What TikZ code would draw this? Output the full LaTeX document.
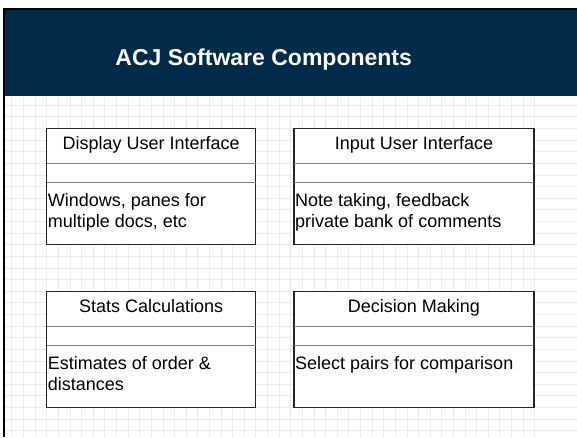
\documentclass[tikz,border=0pt]{standalone}
\usepackage{fontspec}
\setmainfont{Liberation Sans}
\usepackage{tikz}

\definecolor{BandBlue}{RGB}{2,43,74}
\definecolor{GridGray}{RGB}{236,236,236}
\definecolor{SepGray}{RGB}{130,130,130}

\begin{document}
\begin{tikzpicture}[x=1pt,y=-1pt]
  \tikzset{BoxStyle/.style = {
    shape         = rectangle,
    draw          = black!85,
    fill          = white,
    line width    = 1.2pt,
    anchor        = north west,
    inner sep     = 0pt,
    outer sep     = 0pt,
    minimum width = 209pt,
    minimum height= 116pt
    }
  }
  \tikzset{HeadStyle/.style = {
    anchor        = base,
    inner sep     = 0pt,
    text          = black,
    font          = \fontsize{18}{20.7}\selectfont
    }
  }
  \tikzset{BodyStyle/.style = {
    anchor        = north west,
    inner sep     = 0pt,
    align         = left,
    text          = black,
    font          = \fontsize{18}{20.7}\selectfont
    }
  }
  \tikzset{SepStyle/.style = {
    draw          = SepGray,
    line width    = 0.8pt
    }
  }

  \useasboundingbox (0,0) rectangle (577,437);

  \foreach \gx in {0,...,45}
    \draw[GridGray, line width=0.8pt] (46.7+11.62*\gx-11.62*3,96) -- (46.7+11.62*\gx-11.62*3,437);
  \foreach \gy in {0,...,29}
    \draw[GridGray, line width=0.8pt] (5,128.5+11.62*\gy-11.62*2) -- (577,128.5+11.62*\gy-11.62*2);

  \fill[BandBlue] (5,10) rectangle (577,96);
  \draw[black, line width=2pt] (3,9) -- (577,9);
  \draw[black, line width=2pt] (4,8) -- (4,437);
  \node[text=white, font=\fontsize{23}{27}\selectfont\bfseries](Title) at (263.7,60) {ACJ Software Components};

  \node[BoxStyle](DispBox) at (46.7, 128.3) {};
  \node[BoxStyle, minimum width=240pt](InBox) at (294, 128.3) {};
  \node[BoxStyle](StatBox) at (46.7, 291.7) {};
  \node[BoxStyle, minimum width=240pt](DecBox) at (294, 291.7) {};

  \foreach \b in {DispBox,InBox,StatBox,DecBox}{
    \draw[SepStyle] ([yshift=-35pt]\b.north west) -- ([yshift=-35pt]\b.north east);
    \draw[SepStyle] ([yshift=-54pt]\b.north west) -- ([yshift=-54pt]\b.north east);
  }

  \node[HeadStyle](DispHead) at ([yshift=-21pt]DispBox.north) {Display User Interface};
  \node[HeadStyle](InHead) at ([yshift=-21pt]InBox.north) {Input User Interface};
  \node[HeadStyle](StatHead) at ([yshift=-21pt]StatBox.north) {Stats Calculations};
  \node[HeadStyle](DecHead) at ([yshift=-21pt]DecBox.north) {Decision Making};

  \node[BodyStyle](DispBody) at ([xshift=1pt,yshift=-65pt]DispBox.north west) {Windows, panes for\\multiple docs, etc};
  \node[BodyStyle](InBody) at ([xshift=1pt,yshift=-65pt]InBox.north west) {Note taking, feedback\\private bank of comments};
  \node[BodyStyle](StatBody) at ([xshift=1pt,yshift=-65pt]StatBox.north west) {Estimates of order \&\\distances};
  \node[BodyStyle](DecBody) at ([xshift=1pt,yshift=-65pt]DecBox.north west) {Select pairs for comparison};

\end{tikzpicture}
\end{document}
